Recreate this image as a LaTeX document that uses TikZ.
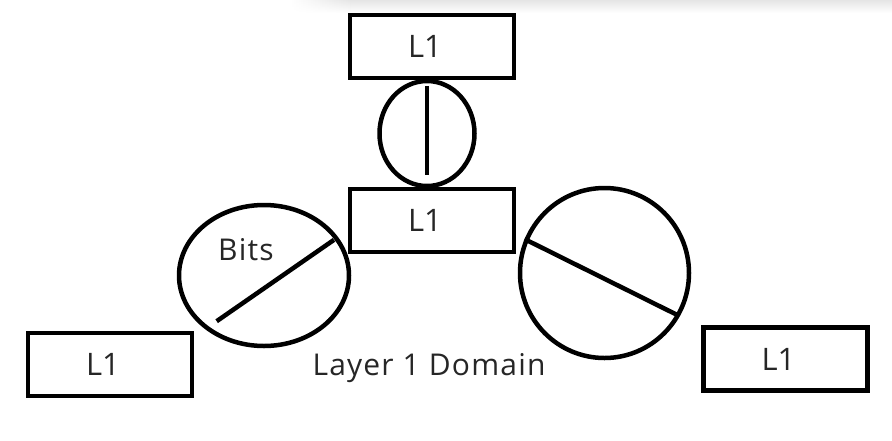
\documentclass[tikz,border=0pt]{standalone}
\usepackage{fontspec}
\setmainfont{Open Sans}
\usepackage{tikz}
\usetikzlibrary{shapes.geometric,calc,fadings}
\tikzset{lbox/.style={
    % The shape:
    rectangle,minimum width=164pt,minimum height=63pt,inner sep=0pt,
    % The rest
    line width=4.5pt,draw=black,
    text=black!85,font=\fontsize{31}{36}\selectfont,
    execute at end node=\hspace{14pt}
  },
  lring/.style={
    % The shape:
    ellipse,inner sep=0pt,
    % The rest
    line width=4.5pt,draw=black
  },
  lwire/.style={line width=4.5pt,draw=black},
  ltext/.style={text=black!85,font=\fontsize{30}{34}\selectfont\addfontfeatures{LetterSpace=4}}
}

\begin{document}
\begin{tikzpicture}[x=1pt,y=-1pt]
      \useasboundingbox (0,0) rectangle (892,440);
      % shadow at the top edge
      \fill[black!10,path fading=south] (350,0) rectangle (892,13);
      \shade[left color=white,right color=black!10,path fading=south] (290,0) rectangle (350,13);

      \node (ltop)   [lbox] at (432,46.5)  {L1};
      \node (lmid)   [lbox] at (432,220.5) {L1};
      \node (lleft)  [lbox] at (110,364.5) {L1};
      \node (lright) [lbox] at (785.5,359) {L1};

      \node (link)  [lring,minimum width=95pt,minimum height=105pt] at (427,133.5) {};
      \node (bits)  [lring,minimum width=170pt,minimum height=141pt] at (264,275.5) {};
      \node (wire)  [lring,minimum width=169pt,minimum height=170pt] at (604.5,273) {};

      \node (bitslabel) [ltext] at (246,250) {Bits};
      \node (domain)    [ltext] at (429,368) {Layer 1 Domain};

      \draw[lwire] ($(link.center)!0.87!(link.90)$) -- ($(link.center)!0.75!(link.-90)$);
      \draw[lwire] ($(bits.center)!0.83!(bits.224)$) -- ($(bits.center)!0.94!(bits.27)$);
      \draw[lwire] (wire.157) -- ($(wire.center)!0.96!(wire.-30)$);
    \end{tikzpicture}
\end{document}
